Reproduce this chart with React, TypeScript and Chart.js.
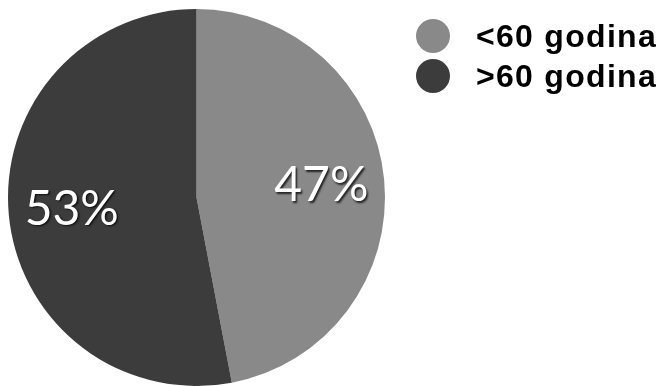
import React, { useEffect, useRef } from "react";
import { Chart, registerables } from "chart.js";

Chart.register(...registerables);

const categories = ["<60 godina", ">60 godina"];
const values = [47, 53];
const valueLabels = ["47%", "53%"];
const colors = ["#898989", "#3c3c3c"];

const overlayPlugin = {
  id: "overlay",
  afterDraw(chart: any) {
    const ctx = chart.ctx;
    const meta = chart.getDatasetMeta(0);
    ctx.save();
    // percent labels
    ctx.font = "400 48px Lato, 'Open Sans', sans-serif";
    ctx.textAlign = "center";
    ctx.textBaseline = "middle";
    ctx.fillStyle = "#ffffff";
    ctx.shadowColor = "rgba(0,0,0,0.75)";
    ctx.shadowOffsetX = 1.5;
    ctx.shadowOffsetY = 1.5;
    ctx.shadowBlur = 2;
    meta.data.forEach((arc: any, i: number) => {
      const p = arc.getProps(["x", "y", "startAngle", "endAngle", "outerRadius"], true);
      const mid = (p.startAngle + p.endAngle) / 2;
      const rl = p.outerRadius * 0.665;
      ctx.fillText(valueLabels[i], p.x + Math.cos(mid) * rl, p.y + Math.sin(mid) * rl);
    });
    ctx.restore();

    // legend
    ctx.save();
    const lx = 433;
    const ly0 = 36;
    const step = 40;
    ctx.font = "bold 32px 'Liberation Sans', Arial, sans-serif";
    (ctx as any).letterSpacing = "1.3px";
    ctx.textAlign = "left";
    ctx.textBaseline = "alphabetic";
    categories.forEach((c, i) => {
      const y = ly0 + i * step;
      ctx.beginPath();
      ctx.arc(lx, y, 17, 0, Math.PI * 2);
      ctx.fillStyle = colors[i];
      ctx.fill();
      ctx.fillStyle = "#000000";
      ctx.fillText(c, 476, y + 11);
    });
    ctx.restore();
  },
};

export default function App() {
  const ref = useRef<HTMLCanvasElement>(null);
  useEffect(() => {
    if (!ref.current) return;
    const chart = new Chart(ref.current, {
      type: "pie",
      data: {
        labels: categories,
        datasets: [
          {
            data: values,
            backgroundColor: colors,
            borderWidth: 0,
          },
        ],
      },
      options: {
        responsive: false,
        animation: false,
        layout: { padding: { left: 8, top: 9, right: 278, bottom: 0 } },
        plugins: {
          legend: { display: false },
          tooltip: { enabled: false },
        },
      },
      plugins: [overlayPlugin],
    });
    return () => chart.destroy();
  }, []);
  return (
    <div style={{ position: "fixed", left: 0, top: 0, width: 663, height: 386, background: "#fff" }}>
      <canvas ref={ref} width={663} height={386} style={{ display: "block" }} />
    </div>
  );
}
